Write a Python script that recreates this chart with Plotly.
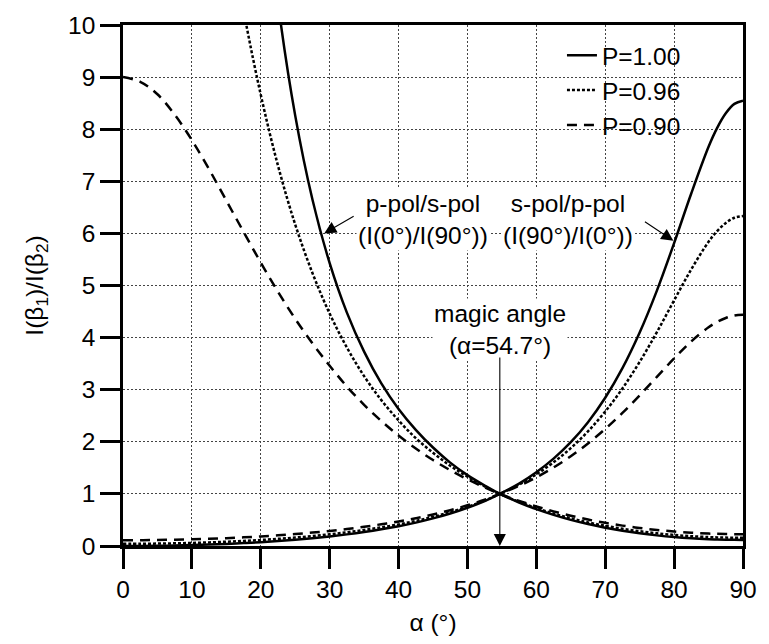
import plotly.graph_objects as go

# tilt angle alpha (deg)
alpha = [0, 2.5, 5, 7.5, 10, 12.5, 15, 17.5, 20, 22.5, 25, 27.5, 30, 32.5, 35, 37.5,
         40, 42.5, 45, 47.5, 50, 52.5, 54.7, 57.5, 60, 62.5, 65, 67.5, 70, 72.5, 75,
         77.5, 80, 82.5, 85, 86.25, 87.5, 88.75, 90]

# P = 1.00
ps_100 = [None, None, None, None, None, None, None,
          17.92, 13.48, 10.43, 8.26, 6.65, 5.43, 4.48, 3.73, 3.12, 2.63, 2.23, 1.89,
          1.60, 1.36, 1.16, 1.00, 0.835, 0.707, 0.597, 0.502, 0.421, 0.352, 0.293,
          0.244, 0.204, 0.172, 0.148, 0.131, 0.125, 0.120, 0.118, 0.117]
sp_100 = [0.0, 0.001, 0.004, 0.010, 0.018, 0.028, 0.040, 0.056, 0.074, 0.096, 0.121,
          0.150, 0.184, 0.223, 0.268, 0.320, 0.380, 0.449, 0.530, 0.624, 0.734, 0.863,
          1.00, 1.197, 1.414, 1.676, 1.992, 2.377, 2.845, 3.413, 4.097, 4.902, 5.814,
          6.771, 7.663, 8.026, 8.306, 8.486, 8.547]

# P = 0.96
ps_096 = [None, None, None, None, None,
          14.44, 12.21, 10.28, 8.66, 7.30, 6.17, 5.24, 4.46, 3.81, 3.26, 2.80, 2.41,
          2.07, 1.79, 1.54, 1.33, 1.145, 1.00, 0.848, 0.727, 0.623, 0.532, 0.454,
          0.387, 0.331, 0.283, 0.244, 0.212, 0.188, 0.171, 0.165, 0.161, 0.159, 0.158]
sp_096 = [0.042, 0.043, 0.046, 0.051, 0.059, 0.069, 0.082, 0.097, 0.116, 0.137, 0.162,
          0.191, 0.224, 0.263, 0.307, 0.357, 0.415, 0.482, 0.559, 0.649, 0.752, 0.873,
          1.00, 1.180, 1.375, 1.606, 1.878, 2.201, 2.581, 3.024, 3.535, 4.105, 4.715,
          5.313, 5.838, 6.045, 6.200, 6.300, 6.333]

# P = 0.90
ps_090 = [9.00, 8.91, 8.67, 8.28, 7.79, 7.23, 6.63, 6.03, 5.44, 4.88, 4.36, 3.89, 3.46,
          3.06, 2.71, 2.40, 2.12, 1.87, 1.65, 1.455, 1.28, 1.125, 1.00, 0.866, 0.759,
          0.664, 0.581, 0.508, 0.445, 0.391, 0.346, 0.308, 0.278, 0.255, 0.238, 0.233,
          0.229, 0.226, 0.225]
sp_090 = [0.111, 0.112, 0.115, 0.121, 0.128, 0.138, 0.151, 0.166, 0.184, 0.205, 0.229,
          0.257, 0.289, 0.326, 0.369, 0.417, 0.471, 0.534, 0.605, 0.687, 0.781, 0.889,
          1.00, 1.155, 1.318, 1.507, 1.722, 1.969, 2.246, 2.555, 2.892, 3.246, 3.600,
          3.928, 4.198, 4.301, 4.376, 4.425, 4.440]

series = [
    ("P=1.00", ps_100, sp_100, "solid"),
    ("P=0.96", ps_096, sp_096, "3px,2px"),
    ("P=0.90", ps_090, sp_090, "10px,7px"),
]

FONT = "Liberation Sans, Arial, sans-serif"
FS = 24.5

fig = go.Figure()
for name, ps, sp, dash in series:
    fig.add_trace(go.Scatter(
        x=alpha + [None] + alpha,
        y=ps + [None] + sp,
        mode="lines",
        name=name,
        line=dict(color="black", width=2.5, dash=dash, shape="spline", smoothing=1.0),
        connectgaps=False,
    ))

axis_common = dict(
    showline=True, linecolor="black", linewidth=2.5, mirror=True,
    ticks="outside", ticklen=20, tickwidth=2.5, tickcolor="black",
    showgrid=True, gridcolor="#444", gridwidth=1, griddash="2px,2px",
    zeroline=False,
    tickfont=dict(family=FONT, size=FS, color="black"),
)

fig.update_xaxes(range=[0, 90], dtick=10, tick0=0,
                 title=dict(text="α (°)", font=dict(family=FONT, size=FS, color="black"),
                            standoff=12),
                 **axis_common)
fig.update_yaxes(range=[0, 10], dtick=1, tick0=0,
                 title=dict(text="I(β<sub>1</sub>)/I(β<sub>2</sub>)",
                            font=dict(family=FONT, size=FS, color="black"), standoff=18),
                 **axis_common)

# text labels
fig.add_annotation(x=43.54, y=6.27, text="p-pol/s-pol<br>(I(0°)/I(90°))",
                   showarrow=False, bgcolor="white", align="center",
                   font=dict(family=FONT, size=FS, color="black"))
fig.add_annotation(x=64.54, y=6.27, text="s-pol/p-pol<br>(I(90°)/I(0°))",
                   showarrow=False, bgcolor="white", align="center",
                   font=dict(family=FONT, size=FS, color="black"))
fig.add_annotation(x=54.7, y=4.16, text="magic angle<br>(α=54.7°)",
                   showarrow=False, bgcolor="white", align="center",
                   font=dict(family=FONT, size=FS, color="black"))

# arrows
arrow = dict(text="", showarrow=True, arrowhead=2, arrowsize=2.2, arrowwidth=1.1,
             arrowcolor="black", standoff=0, startstandoff=0)
fig.add_annotation(x=29.2, y=6.0, ax=31, ay=-18, **arrow)
fig.add_annotation(x=79.9, y=5.86, ax=-30, ay=-20, **arrow)
fig.add_annotation(x=54.7, y=0, ax=0, ay=-190, **arrow)

fig.update_layout(
    width=769, height=644,
    margin=dict(l=123, r=16, t=16, b=95),
    plot_bgcolor="white", paper_bgcolor="white",
    font=dict(family=FONT, size=FS, color="black"),
    showlegend=True,
    legend=dict(x=0.708, y=0.985, xanchor="left", yanchor="top",
                bgcolor="rgba(0,0,0,0)", borderwidth=0,
                font=dict(family=FONT, size=FS, color="black"),
                tracegroupgap=0),
)

fig.write_html("out.html")
